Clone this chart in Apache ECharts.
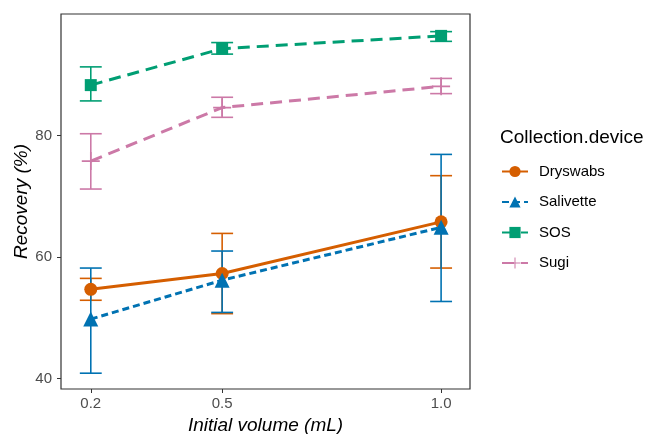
<!DOCTYPE html>
<html>
<head>
<meta charset="utf-8">
<script src="https://cdn.jsdelivr.net/npm/echarts@6/dist/echarts.min.js"></script>
<style>
  html, body { margin: 0; padding: 0; background: #fff; }
  #chart { width: 646px; height: 434px; }
</style>
</head>
<body>
<div id="chart"></div>
<script>
// --- data ---
const volumes = [0.2, 0.5, 1.0];
const devices = ['Dryswabs', 'Salivette', 'SOS', 'Sugi'];

const dryswabsMean = [54.7, 57.3, 65.8];
const dryswabsLow  = [52.9, 50.7, 58.2];
const dryswabsHigh = [56.5, 63.9, 73.4];

const salivetteMean = [49.8, 56.2, 64.9];
const salivetteLow  = [40.9, 50.9, 52.7];
const salivetteHigh = [58.2, 61.0, 76.9];

const sosMean = [88.3, 94.3, 96.4];
const sosLow  = [85.7, 93.4, 95.5];
const sosHigh = [91.3, 95.3, 97.1];

const sugiMean = [75.8, 84.6, 88.1];
const sugiLow  = [71.2, 83.0, 86.9];
const sugiHigh = [80.3, 86.3, 89.4];

const xTicks = [0.2, 0.5, 1.0];
const yTicks = [40, 60, 80];

// --- styles ---
const colors = ['#D55E00', '#0072B2', '#009E73', '#CC79A7'];
const lineTypes = ['solid', [7, 4], [12, 7], [12, 7]];
const symbols = ['circle', 'triangle', 'rect', 'path://M0,4.55h10v0.9h-10z M4.55,0h0.9v10h-0.9z'];
const symbolSizes = [13, 15, 12, 18];
const means = [dryswabsMean, salivetteMean, sosMean, sugiMean];
const lows = [dryswabsLow, salivetteLow, sosLow, sugiLow];
const highs = [dryswabsHigh, salivetteHigh, sosHigh, sugiHigh];
const capHalf = 0.025;
const fontFam = 'Arial, "Liberation Sans", sans-serif';

const chart = echarts.init(document.getElementById('chart'));

const series = [];
devices.forEach((name, i) => {
    series.push({
        name: name + ' err',
        type: 'custom',
        z: 2,
        silent: true,
        encode: { x: 0, y: [1, 2] },
        data: volumes.map((v, k) => [v, lows[i][k], highs[i][k]]),
        renderItem: function (params, api) {
            const x = api.value(0);
            const lo = api.coord([x, api.value(1)]);
            const hi = api.coord([x, api.value(2)]);
            const l = api.coord([x - capHalf, api.value(1)])[0];
            const r = api.coord([x + capHalf, api.value(1)])[0];
            const st = { stroke: colors[i], lineWidth: 1.6 };
            return {
                type: 'group',
                children: [
                    { type: 'line', shape: { x1: lo[0], y1: lo[1], x2: hi[0], y2: hi[1] }, style: st },
                    { type: 'line', shape: { x1: l, y1: lo[1], x2: r, y2: lo[1] }, style: st },
                    { type: 'line', shape: { x1: l, y1: hi[1], x2: r, y2: hi[1] }, style: st }
                ]
            };
        }
    });
});
devices.forEach((name, i) => {
    series.push({
        name: name,
        type: 'line',
        z: 3,
        data: volumes.map((v, k) => [v, means[i][k]]),
        symbol: symbols[i],
        symbolSize: symbolSizes[i],
        showAllSymbol: true,
        itemStyle: { color: colors[i], opacity: 1 },
        lineStyle: { color: colors[i], width: 3, type: lineTypes[i] },
        emphasis: { disabled: true },
        animation: false
    });
});

chart.setOption({
    animation: false,
    textStyle: { fontFamily: fontFam },
    grid: {
        left: 61, top: 14, right: 176, bottom: 45,
        containLabel: false, outerBoundsMode: 'none',
        show: true, borderColor: '#333333', borderWidth: 1.2, backgroundColor: '#fff'
    },
    xAxis: {
        type: 'value', min: 0.132, max: 1.066,
        splitLine: { show: false },
        axisLine: { show: false },
        axisTick: { show: true, length: 4, lineStyle: { color: '#333' }, customValues: xTicks },
        axisLabel: {
            customValues: xTicks, margin: 7, fontSize: 15, color: '#4D4D4D',
            formatter: v => Number(v).toFixed(1)
        },
        name: 'Initial volume (mL)', nameLocation: 'middle', nameGap: 27, nameMoveOverlap: false,
        nameTextStyle: { fontSize: 19, fontStyle: 'italic', color: '#000' }
    },
    yAxis: {
        type: 'value', min: 38.3, max: 100.0,
        splitLine: { show: false },
        axisLine: { show: false },
        axisTick: { show: true, length: 4, lineStyle: { color: '#333' }, customValues: yTicks },
        axisLabel: { customValues: yTicks, margin: 9, fontSize: 15, color: '#4D4D4D' },
        name: 'Recovery (%)', nameLocation: 'middle', nameGap: 30, nameMoveOverlap: false,
        nameTextStyle: { fontSize: 19, fontStyle: 'italic', color: '#000' }
    },
    legend: {
        data: devices,
        orient: 'vertical',
        left: 496, top: 159,
        itemWidth: 26, itemHeight: 14, itemGap: 15.5,
        textStyle: { fontSize: 15, color: '#000', padding: [0, 0, 0, 6] },
        selectedMode: false
    },
    graphic: [{
        type: 'text', left: 500, top: 128,
        style: { text: 'Collection.device', fontSize: 19, fill: '#000', fontFamily: fontFam }
    }],
    series: series
});
</script>
</body>
</html>
